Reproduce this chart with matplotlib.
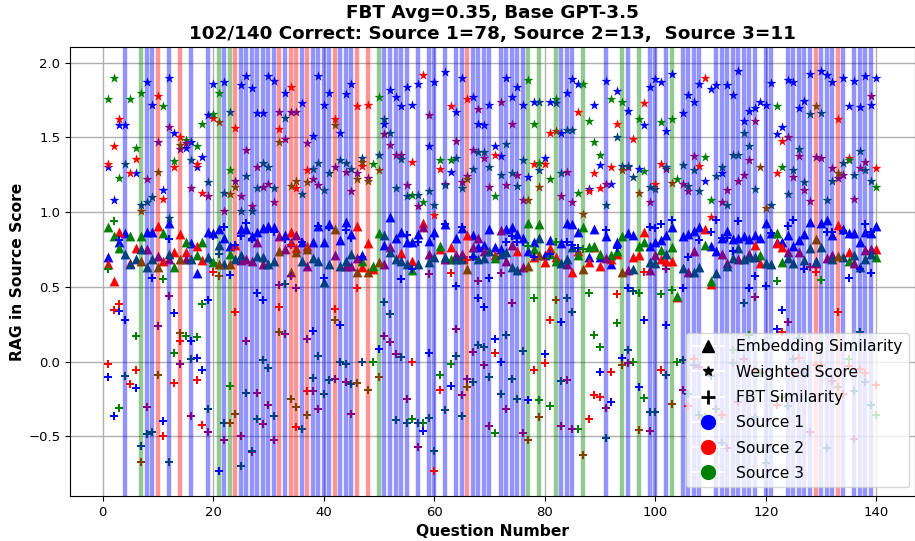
import numpy as np
import matplotlib.pyplot as plt
from matplotlib.lines import Line2D

# which source was picked per question (vertical lines)
picked_1 = [4,8,9,12,16,19,22,25,26,27,28,29,30,31,33,36,38,39,40,41,43,44,45,
            51,52,53,54,55,57,59,60,62,64,65,67,68,69,70,72,73,74,75,76,
            83,84,85,91,95,99,100,102,105,106,107,108,111,112,113,114,115,116,117,118,120,121,
            124,125,126,127,128,130,131,132,134,136,137,138,139]
picked_2 = [10,14,24,32,34,35,37,42,46,48,66,129,133]
picked_3 = [7,21,23,50,77,79,82,87,94,97,103]

# (question, score, sources that share the point)
weighted = [
(1,1.76,'g'),(1,1.325,'r'),(1,1.30,'b'),(2,1.90,'g'),(2,1.44,'r'),(2,1.08,'b'),(3,1.62,'r'),(3,1.58,'b'),(3,1.23,'g'),
(4,1.58,'b'),(4,1.32,'bg'),(5,1.26,'r'),(5,1.76,'g'),(6,1.26,'b'),(6,1.355,'r'),(6,1.43,'g'),(7,1.80,'g'),(7,1.05,'bg'),(7,1.01,'rg'),
(8,1.87,'b'),(8,1.22,'br'),(8,1.07,'bg'),(9,1.72,'b'),(9,1.10,'bg'),(10,1.78,'r'),(10,1.47,'br'),(10,1.27,'rg'),
(11,1.15,'b'),(11,1.09,'r'),(11,1.71,'g'),(12,1.90,'b'),(12,1.57,'br'),(12,0.96,'bg'),(13,1.53,'b'),(13,1.34,'g'),(13,1.30,'r'),
(14,1.50,'r'),(14,1.45,'rg'),(14,1.42,'br'),(15,1.48,'g'),(15,1.46,'br'),(15,1.43,'b'),(16,1.47,'b'),(16,1.16,'br'),(16,1.35,'bg'),
(17,1.44,'g'),(17,1.32,'r'),(17,1.30,'b'),(18,1.37,'b'),(18,1.13,'r'),(18,1.59,'g'),(19,1.65,'b'),(19,1.20,'bg'),(19,1.105,'br'),
(20,1.86,'b'),(20,1.655,'g'),(20,1.63,'r'),(21,1.80,'g'),(21,1.60,'rg'),(22,1.87,'b'),(22,1.01,'br'),(22,1.13,'bg'),
(23,1.67,'bg'),(23,1.28,'g'),(23,1.12,'rg'),(24,1.56,'r'),(24,1.21,'br'),(24,1.17,'rg'),(25,1.85,'b'),(25,1.11,'br'),(25,1.01,'bg'),
(26,1.91,'b'),(26,1.415,'br'),(26,1.24,'bg'),(27,1.83,'b'),(27,1.04,'br'),(27,1.01,'bg'),(28,1.66,'b'),(28,1.30,'br'),(28,1.16,'bg'),
(29,1.66,'b'),(29,1.33,'bg'),(29,1.17,'br'),(30,1.91,'b'),(30,1.30,'bg'),(30,1.19,'br'),(31,1.88,'b'),(31,1.16,'bg'),(31,1.07,'br'),
(32,1.67,'br'),(32,1.555,'r'),(32,1.47,'rg'),(33,1.80,'b'),(33,1.63,'bg'),(33,1.49,'br'),(34,1.84,'r'),(34,1.67,'br'),(34,1.175,'rg'),
(35,1.67,'br'),(35,1.21,'rg'),(35,1.16,'r'),(36,1.73,'b'),(36,1.12,'bg'),(37,1.28,'r'),(37,1.20,'rg'),(37,1.46,'br'),
(38,1.51,'b'),(38,1.29,'bg'),(38,1.22,'br'),(39,1.91,'b'),(39,1.33,'bg'),(39,1.18,'br'),(40,1.72,'b'),(40,1.15,'bg'),
(41,1.80,'b'),(41,1.26,'bg'),(42,1.62,'r'),(42,1.58,'rg'),(42,1.30,'br'),(43,1.53,'b'),(43,1.35,'bg'),
(44,1.79,'b'),(44,1.33,'bg'),(44,1.27,'br'),(45,1.86,'b'),(45,1.29,'bg'),(45,1.14,'br'),(46,1.71,'r'),(46,1.26,'br'),(46,1.22,'rg'),
(47,1.36,'bg'),(47,1.335,'rg'),(47,1.31,'r'),(48,1.72,'r'),(48,1.23,'br'),(48,1.21,'rg'),(49,1.325,'g'),
(50,1.77,'g'),(50,1.38,'bg'),(50,1.28,'rg'),(51,1.62,'bg'),(51,1.59,'b'),(51,1.52,'br'),(52,1.82,'b'),(52,1.53,'bg'),(52,1.45,'br'),
(53,1.77,'b'),(53,1.38,'br'),(53,1.16,'bg'),(54,1.71,'b'),(54,1.38,'br'),(54,1.355,'bg'),(55,1.84,'b'),(55,1.18,'br'),(55,1.11,'bg'),
(56,1.715,'b'),(56,1.335,'r'),(56,1.115,'g'),(57,1.86,'b'),(57,1.115,'bg'),(57,1.04,'br'),(58,1.92,'r'),(58,1.07,'g'),
(59,1.65,'br'),(59,1.44,'b'),(59,1.14,'bg'),(60,1.87,'b'),(60,1.05,'bg'),(60,0.98,'r'),(61,1.35,'g'),(61,1.29,'r'),
(62,1.935,'b'),(62,1.19,'br'),(62,1.18,'bg'),(63,1.71,'r'),(63,1.27,'b'),(63,1.35,'g'),(64,1.67,'b'),(64,1.475,'br'),(64,1.36,'bg'),
(65,1.90,'b'),(65,1.20,'br'),(65,1.16,'bg'),(66,1.76,'r'),(66,1.24,'br'),(66,1.22,'rg'),(67,1.77,'b'),(67,1.415,'br'),(67,1.29,'bg'),
(68,1.69,'br'),(68,1.59,'b'),(68,1.40,'bg'),(69,1.58,'b'),(69,1.40,'bg'),(69,1.365,'br'),(70,1.72,'b'),(70,1.30,'bg'),(70,1.17,'br'),
(71,1.44,'b'),(71,1.385,'r'),(71,1.11,'g'),(72,1.74,'br'),(72,1.375,'b'),(72,1.25,'bg'),(73,1.90,'b'),(73,1.455,'bg'),(73,1.18,'br'),
(74,1.59,'br'),(74,1.77,'b'),(74,1.26,'bg'),(75,1.84,'b'),(75,1.25,'br'),(75,1.175,'bg'),(76,1.72,'b'),(76,1.35,'bg'),(76,1.08,'br'),
(77,1.885,'g'),(77,1.235,'b'),(77,1.08,'rg'),(78,1.74,'b'),(78,1.59,'g'),(78,1.32,'r'),(79,1.74,'bg'),(79,1.33,'g'),(79,1.285,'bg'),(79,1.17,'rg'),
(80,1.36,'b'),(80,1.32,'r'),(81,1.74,'b'),(81,1.53,'r'),(81,1.22,'g'),(82,1.76,'g'),(82,1.73,'bg'),(82,1.54,'rg'),
(83,1.53,'b'),(83,1.26,'bg'),(83,1.11,'br'),(84,1.80,'b'),(84,1.55,'bg'),(84,1.27,'br'),(85,1.89,'b'),(85,1.55,'bg'),(85,1.07,'br'),
(86,1.86,'b'),(86,1.67,'r'),(86,1.13,'g'),(87,1.86,'g'),(87,0.99,'rg'),(88,1.61,'g'),(88,1.155,'b'),(88,1.14,'r'),
(89,1.72,'b'),(89,1.47,'g'),(89,1.265,'r'),(90,1.385,'g'),(90,1.315,'b'),(90,1.16,'r'),(91,1.88,'b'),(91,1.19,'br'),(91,1.05,'bg'),
(92,1.76,'g'),(92,1.30,'r'),(92,1.19,'b'),(93,1.81,'b'),(93,1.59,'r'),(93,1.50,'bg'),(94,1.74,'g'),(94,1.31,'bg'),(94,1.28,'rg'),
(95,1.68,'b'),(95,1.31,'bg'),(95,1.30,'br'),(96,1.49,'r'),(96,1.235,'bg'),(97,1.62,'g'),(97,1.29,'b'),(97,1.13,'rg'),
(98,1.73,'r'),(98,1.58,'b'),(98,1.275,'g'),(99,1.84,'b'),(99,1.165,'bg'),(99,1.07,'br'),(100,1.89,'b'),(100,1.155,'bg'),(100,1.19,'r'),
(101,1.87,'b'),(101,1.60,'g'),(101,1.325,'r'),(102,1.54,'b'),(102,1.30,'bg'),(102,1.29,'br'),(103,1.925,'b'),(103,1.62,'g'),(103,1.195,'rg'),
(104,1.22,'g'),(105,1.66,'b'),(105,1.315,'bg'),(105,1.19,'br'),(106,1.785,'b'),(106,1.175,'bg'),(106,1.14,'br'),
(107,1.74,'b'),(107,1.375,'br'),(107,1.285,'bg'),(108,1.86,'b'),(108,1.31,'r'),(108,1.14,'bg'),(109,1.90,'r'),(109,1.37,'g'),(109,1.21,'b'),
(110,1.825,'b'),(110,1.08,'g'),(110,0.97,'r'),(111,1.85,'b'),(111,1.24,'bg'),(112,1.30,'bg'),(112,1.26,'b'),(112,1.07,'br'),
(113,1.85,'b'),(113,1.145,'br'),(113,1.045,'bg'),(114,1.785,'b'),(114,1.385,'bg'),(115,1.945,'b'),(115,1.38,'bg'),(115,1.205,'br'),
(116,1.61,'b'),(116,1.53,'bg'),(116,1.25,'br'),(117,1.68,'b'),(117,1.44,'bg'),(117,1.35,'br'),(118,1.70,'b'),(118,1.61,'br'),(118,1.155,'bg'),
(119,1.74,'b'),(119,1.30,'rg'),(120,1.72,'b'),(120,1.03,'rg'),(121,1.865,'b'),(121,1.045,'bg'),(122,1.71,'g'),(122,1.52,'b'),(122,1.26,'r'),
(123,1.57,'b'),(123,1.475,'r'),(123,1.30,'g'),(124,1.885,'b'),(124,1.50,'br'),(124,1.12,'bg'),(125,1.87,'b'),(125,1.285,'bg'),(125,1.235,'br'),
(126,1.70,'b'),(126,1.42,'bg'),(126,1.375,'br'),(127,1.745,'b'),(127,1.20,'bg'),(127,1.15,'br'),(128,1.925,'b'),(128,1.655,'bg'),(128,1.075,'br'),
(129,1.71,'rg'),(129,1.37,'br'),(130,1.945,'b'),(130,1.66,'bg'),(130,1.36,'br'),(131,1.915,'b'),(131,1.08,'bg'),
(132,1.87,'b'),(132,1.295,'br'),(132,1.21,'bg'),(133,1.625,'r'),(133,1.26,'rg'),(133,1.23,'br'),(134,1.90,'b'),(134,1.25,'br'),(134,1.33,'bg'),
(135,1.71,'b'),(135,1.35,'g'),(135,1.36,'r'),(136,1.88,'b'),(136,1.09,'br'),(136,1.25,'bg'),(137,1.705,'b'),(137,1.41,'bg'),(137,1.295,'br'),
(138,1.91,'b'),(138,1.335,'br'),(138,1.28,'bg'),(139,1.78,'br'),(139,1.72,'b'),(139,1.21,'bg'),(140,1.90,'b'),(140,1.295,'r'),(140,1.17,'g'),
]

fbt = [
(1,-0.015,'r'),(1,-0.105,'b'),(1,0.62,'g'),(2,0.345,'r'),(2,-0.365,'b'),(2,0.94,'g'),(3,0.385,'r'),(3,0.335,'b'),(3,-0.31,'g'),(3,0.81,'b'),
(4,0.28,'b'),(4,-0.095,'bg'),(5,-0.15,'r'),(6,-0.055,'r'),(6,-0.175,'b'),(6,0.17,'g'),(7,-0.565,'bg'),(7,-0.67,'rg'),
(8,-0.305,'br'),(8,-0.485,'bg'),(9,-0.475,'bg'),(9,0.56,'b'),(10,0.235,'br'),(10,-0.09,'rg'),(11,-0.40,'b'),(11,-0.50,'r'),(11,0.555,'g'),
(12,0.44,'br'),(12,-0.67,'bg'),(12,0.82,'b'),(13,0.325,'b'),(13,0.06,'g'),(13,-0.145,'r'),(14,0.19,'rg'),(14,0.135,'r'),(14,-0.015,'br'),
(15,0.17,'g'),(16,0.14,'b'),(16,0.015,'bg'),(16,-0.365,'br'),(17,0.165,'g'),(17,0.025,'b'),(17,-0.125,'r'),
(18,-0.055,'b'),(18,-0.425,'r'),(18,0.385,'g'),(19,0.415,'b'),(19,-0.315,'bg'),(19,-0.475,'br'),(20,0.84,'b'),(20,0.66,'g'),(20,0.60,'r'),
(21,-0.735,'b'),(21,0.57,'rg'),(21,0.72,'bg'),(22,-0.525,'br'),(22,-0.41,'bg'),(22,0.90,'b'),(23,-0.165,'g'),(23,-0.41,'rg'),(23,0.58,'b'),
(24,0.33,'r'),(24,-0.35,'rg'),(24,0.78,'b'),(25,-0.70,'bg'),(25,-0.50,'br'),(25,0.84,'b'),(26,0.14,'br'),(26,-0.21,'bg'),(26,0.93,'b'),
(27,-0.605,'br'),(27,-0.60,'bg'),(27,0.82,'b'),(28,0.46,'b'),(28,-0.21,'br'),(28,-0.385,'bg'),(29,0.415,'b'),(29,0.01,'bg'),(29,-0.415,'br'),
(30,-0.04,'bg'),(30,-0.29,'br'),(30,0.89,'b'),(31,-0.365,'bg'),(31,-0.525,'br'),(31,0.87,'b'),(32,0.365,'r'),(32,0.20,'rg'),(32,0.51,'br'),
(33,0.52,'bg'),(33,0.185,'br'),(33,0.82,'b'),(34,0.575,'br'),(34,-0.25,'rg'),(34,0.78,'r'),(35,0.49,'br'),(35,-0.305,'rg'),(35,-0.435,'r'),
(36,-0.45,'bg'),(36,0.80,'b'),(37,-0.195,'r'),(37,-0.355,'rg'),(37,0.15,'br'),(38,0.205,'b'),(38,-0.11,'bg'),(38,-0.20,'br'),
(39,0.04,'bg'),(39,-0.32,'br'),(39,0.91,'b'),(40,-0.215,'bg'),(40,0.56,'b'),(41,-0.125,'bg'),(41,0.90,'b'),(42,0.35,'r'),(42,0.275,'rg'),(42,-0.12,'br'),
(43,0.245,'b'),(43,0.0,'bg'),(44,-0.015,'bg'),(44,-0.14,'br'),(44,0.88,'b'),(45,-0.15,'bg'),(45,-0.35,'br'),(45,0.83,'b'),(46,0.49,'r'),(46,-0.145,'rg'),
(47,0.0,'bg'),(47,0.70,'b'),(48,-0.19,'rg'),(49,0.0,'g'),(50,0.085,'b'),(50,-0.105,'rg'),(51,0.40,'bg'),(51,0.17,'br'),(52,0.32,'bg'),(52,0.13,'br'),
(53,0.05,'br'),(53,-0.39,'bg'),(54,0.55,'b'),(54,0.03,'bg'),(55,-0.25,'br'),(55,-0.41,'bg'),(55,0.85,'b'),(56,0.0,'r'),(56,-0.385,'g'),(56,0.62,'b'),
(57,-0.41,'bg'),(57,-0.575,'br'),(57,0.80,'b'),(58,-0.41,'g'),(58,-0.465,'b'),(59,0.06,'b'),(59,-0.38,'bg'),(59,0.585,'br'),(60,-0.60,'bg'),(60,-0.735,'r'),(60,0.84,'b'),
(61,-0.09,'g'),(61,-0.19,'r'),(62,-0.325,'bg'),(62,0.92,'b'),(63,-0.015,'g'),(63,-0.165,'b'),(63,0.59,'r'),(64,0.505,'b'),(64,0.22,'br'),(64,0.035,'bg'),
(65,-0.225,'br'),(65,-0.365,'bg'),(65,0.90,'b'),(66,-0.115,'br'),(66,-0.17,'rg'),(66,0.68,'r'),(67,-0.135,'bg'),(67,0.065,'br'),(67,0.70,'b'),
(68,0.54,'br'),(68,0.425,'b'),(68,0.11,'bg'),(69,0.365,'b'),(69,0.095,'bg'),(69,-0.02,'br'),(70,0.56,'b'),(70,-0.105,'bg'),(70,-0.43,'br'),
(71,0.15,'b'),(71,0.06,'r'),(71,-0.48,'g'),(72,0.595,'br'),(72,0.0,'b'),(72,-0.215,'bg'),(73,0.18,'bg'),(73,-0.315,'br'),(73,0.80,'b'),
(74,0.39,'br'),(74,-0.115,'bg'),(74,0.84,'b'),(75,-0.25,'bg'),(75,0.80,'b'),(76,0.07,'bg'),(76,-0.48,'br'),(76,0.80,'b'),
(77,-0.26,'b'),(77,-0.525,'rg'),(77,0.77,'g'),(78,0.425,'g'),(78,-0.055,'r'),(78,0.70,'b'),(79,-0.26,'g'),(79,-0.37,'rg'),(80,0.05,'b'),(80,-0.01,'r'),
(81,0.28,'r'),(81,-0.295,'g'),(81,0.72,'b'),(82,0.415,'rg'),(82,0.80,'g'),(83,0.265,'b'),(83,-0.13,'bg'),(83,-0.43,'br'),(84,0.425,'bg'),(84,-0.125,'br'),(84,0.80,'b'),
(85,0.33,'bg'),(85,-0.45,'br'),(85,0.78,'b'),(86,-0.45,'g'),(86,0.76,'b'),(87,-0.625,'rg'),(87,0.75,'g'),(88,0.46,'g'),(88,-0.385,'r'),
(89,0.175,'g'),(89,-0.225,'r'),(90,0.095,'g'),(90,-0.07,'b'),(90,-0.235,'r'),(91,-0.31,'br'),(91,-0.51,'bg'),(91,0.88,'b'),(92,-0.07,'r'),(92,-0.27,'b'),
(93,0.45,'r'),(93,0.255,'g'),(93,0.76,'b'),(94,0.025,'b'),(94,-0.02,'rg'),(95,0.08,'bg'),(95,-0.01,'br'),(95,0.495,'b'),(96,0.0,'g'),(96,0.47,'bg'),
(97,-0.17,'b'),(97,-0.46,'rg'),(97,0.457,'g'),(98,-0.245,'g'),(98,0.28,'b'),(98,0.60,'r'),(99,-0.34,'bg'),(99,-0.465,'br'),(99,0.90,'b'),
(100,-0.34,'bg'),(100,0.895,'b'),(101,0.45,'g'),(101,-0.055,'r'),(101,0.92,'b'),(102,0.245,'b'),(102,-0.09,'bg'),(102,0.62,'br'),
(103,0.48,'g'),(103,-0.285,'rg'),(103,0.95,'b'),(104,0.0,'g'),(105,0.495,'b'),(105,0.01,'bg'),(105,-0.19,'br'),(106,-0.22,'bg'),(106,-0.295,'r'),(106,0.70,'b'),
(107,0.02,'r'),(107,-0.02,'bg'),(108,-0.035,'br'),(108,-0.36,'bg'),(108,0.81,'b'),(109,-0.37,'g'),(110,-0.10,'bg'),(110,0.87,'b'),(111,-0.32,'bg'),(111,0.945,'b'),
(112,-0.36,'r'),(112,-0.545,'bg'),(112,0.83,'b'),(113,-0.58,'br'),(113,0.83,'b'),(114,0.08,'g'),(114,-0.01,'bg'),(114,0.74,'b'),(115,-0.27,'br'),(115,0.94,'b'),
(116,0.39,'bg'),(116,0.015,'br'),(117,0.49,'b'),(117,0.18,'g'),(118,0.575,'b'),(118,0.43,'br'),(118,-0.37,'bg'),(118,-0.06,'r'),(119,-0.08,'g'),
(120,0.505,'b'),(120,-0.68,'bg'),(121,0.86,'b'),(122,0.54,'g'),(122,0.22,'b'),(122,-0.29,'r'),(123,0.345,'b'),(123,0.20,'r'),(123,-0.24,'g'),
(124,0.265,'br'),(124,-0.30,'bg'),(124,0.91,'b'),(125,0.015,'bg'),(125,-0.08,'r'),(125,0.945,'b'),(126,0.16,'bg'),(126,0.025,'r'),(127,-0.08,'bg'),(127,0.62,'b'),
(128,-0.47,'br'),(128,0.63,'br'),(129,0.60,'r'),(129,-0.02,'r'),(130,0.545,'g'),(130,-0.02,'r'),(131,-0.58,'bg'),(131,0.865,'b'),(132,-0.13,'br'),(132,0.865,'b'),
(133,0.33,'r'),(133,-0.17,'rg'),(134,-0.22,'r'),(134,0.875,'b'),(135,0.56,'b'),(135,0.02,'g'),(135,-0.03,'r'),(136,-0.20,'bg'),(136,-0.52,'br'),
(137,0.62,'b'),(137,0.20,'bg'),(137,-0.05,'r'),(138,-0.08,'r'),(138,-0.135,'bg'),(138,0.92,'b'),(139,-0.29,'bg'),(139,0.59,'b'),(139,0.865,'b'),(140,-0.36,'g'),(140,-0.16,'r'),
]

embedding = [
(1,0.90,'g'),(1,0.70,'b'),(1,0.655,'r'),(2,0.54,'r'),(2,0.84,'g'),(3,0.87,'r'),(3,0.80,'b'),(3,0.76,'g'),(4,0.86,'b'),(4,0.72,'bg'),
(5,0.84,'g'),(5,0.65,'bg'),(5,0.66,'r'),(6,0.76,'r'),(6,0.685,'bg'),(7,0.84,'g'),(7,0.675,'rg'),(7,0.75,'bg'),(8,0.865,'b'),(8,0.755,'br'),(8,0.63,'bg'),
(9,0.87,'b'),(9,0.685,'bg'),(10,0.905,'r'),(10,0.705,'br'),(10,0.63,'rg'),(11,0.86,'g'),(11,0.675,'r'),(12,0.93,'b'),(12,0.685,'br'),(12,0.72,'bg'),
(13,0.735,'r'),(13,0.63,'g'),(14,0.855,'r'),(14,0.685,'rg'),(15,0.80,'g'),(15,0.735,'r'),(15,0.685,'br'),(16,0.795,'b'),(16,0.685,'bg'),
(17,0.77,'r'),(17,0.71,'g'),(17,0.595,'b'),(18,0.80,'g'),(18,0.68,'r'),(19,0.87,'b'),(19,0.70,'bg'),(20,0.86,'b'),(20,0.665,'g'),
(21,0.89,'b'),(21,0.78,'bg'),(21,0.65,'rg'),(22,0.83,'b'),(22,0.65,'bg'),(23,0.775,'b'),(23,0.72,'g'),(23,0.65,'rg'),(24,0.78,'r'),(24,0.685,'bg'),
(25,0.89,'b'),(25,0.715,'bg'),(25,0.68,'br'),(26,0.89,'b'),(26,0.685,'br'),(27,0.84,'b'),(27,0.675,'br'),(28,0.865,'b'),(28,0.80,'br'),(28,0.705,'bg'),
(29,0.895,'b'),(29,0.65,'br'),(29,0.70,'bg'),(30,0.905,'b'),(30,0.65,'bg'),(31,0.90,'b'),(31,0.67,'bg'),(32,0.84,'br'),(32,0.74,'rg'),(33,0.845,'b'),(33,0.75,'br'),
(34,0.865,'r'),(34,0.80,'br'),(34,0.60,'rg'),(35,0.85,'br'),(35,0.73,'rg'),(35,0.76,'r'),(36,0.80,'b'),(36,0.675,'bg'),(37,0.755,'rg'),(37,0.77,'r'),(37,0.64,'br'),
(38,0.80,'b'),(38,0.695,'bg'),(39,0.91,'b'),(39,0.675,'bg'),(40,0.80,'b'),(40,0.535,'bg'),(41,0.92,'b'),(41,0.65,'bg'),(42,0.89,'rg'),(42,0.71,'br'),
(43,0.815,'b'),(43,0.64,'bg'),(44,0.935,'b'),(44,0.675,'bg'),(44,0.64,'br'),(45,0.855,'b'),(45,0.72,'bg'),(45,0.64,'br'),(46,0.91,'r'),(46,0.60,'rg'),(46,0.69,'br'),
(47,0.71,'b'),(47,0.67,'g'),(47,0.63,'r'),(48,0.79,'r'),(48,0.60,'rg'),(49,0.64,'g'),(49,0.62,'r'),(50,0.86,'g'),(50,0.665,'rg'),
(51,0.85,'bg'),(51,0.78,'b'),(51,0.65,'br'),(52,0.965,'b'),(52,0.765,'br'),(52,0.73,'bg'),(53,0.83,'b'),(53,0.685,'bg'),(54,0.865,'b'),(54,0.725,'r'),(54,0.675,'bg'),
(55,0.80,'b'),(55,0.65,'bg'),(56,0.80,'b'),(56,0.67,'r'),(56,0.615,'g'),(57,0.855,'b'),(57,0.65,'bg'),(58,0.93,'r'),(58,0.90,'br'),(59,0.805,'b'),(59,0.72,'br'),(59,0.665,'bg'),
(60,0.865,'b'),(60,0.70,'bg'),(61,0.775,'g'),(61,0.75,'r'),(62,0.92,'b'),(62,0.685,'br'),(62,0.70,'bg'),(63,0.765,'r'),(63,0.685,'g'),(64,0.825,'b'),(64,0.71,'br'),(64,0.685,'bg'),
(65,0.895,'b'),(65,0.72,'br'),(65,0.685,'bg'),(66,0.845,'r'),(66,0.62,'rg'),(67,0.85,'b'),(67,0.765,'br'),(67,0.71,'bg'),(68,0.83,'br'),(68,0.765,'b'),(68,0.685,'bg'),
(69,0.78,'b'),(69,0.74,'br'),(69,0.69,'bg'),(70,0.89,'b'),(70,0.74,'bg'),(71,0.765,'b'),(71,0.695,'g'),(71,0.71,'r'),(72,0.88,'br'),(72,0.755,'b'),(72,0.72,'bg'),
(73,0.89,'b'),(73,0.73,'bg'),(73,0.675,'br'),(74,0.78,'br'),(74,0.90,'b'),(74,0.63,'bg'),(75,0.855,'b'),(75,0.74,'r'),(75,0.615,'bg'),(76,0.83,'b'),(76,0.63,'br'),
(77,0.925,'g'),(77,0.74,'b'),(77,0.64,'rg'),(78,0.755,'g'),(78,0.70,'r'),(78,0.80,'b'),(79,0.92,'g'),(79,0.715,'rg'),(79,0.83,'bg'),(80,0.71,'b'),(80,0.665,'r'),
(81,0.81,'b'),(81,0.76,'r'),(81,0.72,'g'),(82,0.67,'g'),(82,0.70,'r'),(83,0.79,'b'),(83,0.66,'bg'),(84,0.925,'b'),(84,0.685,'bg'),(84,0.65,'br'),
(85,0.92,'b'),(85,0.765,'bg'),(85,0.60,'r'),(86,0.71,'g'),(86,0.74,'r'),(86,0.865,'b'),(87,0.90,'g'),(87,0.62,'rg'),(88,0.765,'g'),(88,0.70,'b'),(88,0.665,'r'),
(89,0.885,'b'),(89,0.775,'g'),(89,0.765,'r'),(90,0.70,'b'),(90,0.64,'r'),(90,0.72,'g'),(91,0.84,'b'),(91,0.69,'br'),(92,0.685,'r'),(92,0.71,'g'),(92,0.65,'b'),
(93,0.80,'b'),(93,0.74,'g'),(93,0.72,'r'),(94,0.84,'g'),(94,0.60,'rg'),(95,0.86,'b'),(95,0.615,'br'),(96,0.85,'b'),(96,0.70,'r'),(96,0.62,'bg'),
(97,0.775,'g'),(97,0.71,'r'),(98,0.865,'r'),(98,0.80,'g'),(99,0.775,'b'),(99,0.665,'bg'),(99,0.61,'br'),(100,0.715,'br'),(100,0.66,'bg'),(100,0.80,'b'),
(101,0.815,'b'),(101,0.745,'g'),(101,0.685,'r'),(102,0.85,'b'),(102,0.675,'r'),(102,0.72,'bg'),(103,0.90,'b'),(103,0.765,'g'),(103,0.675,'r'),(104,0.44,'g'),(104,0.43,'r'),
(105,0.84,'b'),(105,0.625,'bg'),(106,0.855,'b'),(106,0.60,'br'),(107,0.875,'b'),(107,0.74,'br'),(107,0.60,'bg'),(108,0.90,'b'),(108,0.63,'bg'),(109,0.89,'r'),(109,0.78,'g'),
(110,0.77,'b'),(110,0.52,'r'),(110,0.54,'g'),(111,0.74,'b'),(111,0.59,'bg'),(112,0.83,'b'),(112,0.72,'br'),(113,0.875,'b'),(113,0.64,'bg'),(113,0.66,'br'),
(114,0.82,'b'),(114,0.69,'bg'),(115,0.83,'b'),(115,0.76,'bg'),(115,0.685,'br'),(116,0.84,'b'),(116,0.685,'bg'),(117,0.70,'bg'),(117,0.72,'br'),(117,0.82,'b'),
(118,0.845,'b'),(118,0.78,'r'),(118,0.70,'bg'),(119,0.825,'b'),(119,0.71,'g'),(119,0.66,'r'),(120,0.93,'b'),(120,0.66,'bg'),(121,0.86,'b'),(121,0.655,'bg'),
(122,0.86,'g'),(122,0.79,'r'),(122,0.80,'b'),(123,0.80,'b'),(123,0.765,'r'),(123,0.665,'g'),(124,0.73,'br'),(124,0.85,'b'),(124,0.69,'bg'),(125,0.77,'b'),(125,0.66,'bg'),
(126,0.81,'b'),(126,0.73,'br'),(127,0.855,'b'),(127,0.68,'bg'),(128,0.935,'b'),(128,0.76,'bg'),(129,0.82,'rg'),(129,0.67,'bg'),(129,0.66,'br'),
(130,0.93,'b'),(130,0.765,'bg'),(131,0.945,'b'),(131,0.69,'br'),(132,0.71,'br'),(132,0.685,'bg'),(132,0.85,'b'),(133,0.915,'r'),(133,0.705,'rg'),(134,0.89,'b'),(134,0.70,'bg'),
(135,0.73,'r'),(135,0.675,'g'),(135,0.86,'b'),(136,0.71,'bg'),(136,0.86,'b'),(136,0.66,'br'),(137,0.80,'b'),(137,0.63,'bg'),(138,0.87,'b'),(138,0.745,'br'),(138,0.685,'bg'),
(139,0.86,'b'),(139,0.755,'br'),(139,0.72,'bg'),(140,0.91,'b'),(140,0.755,'r'),(140,0.70,'g'),
]

# shared points come out as the mean of the source colours
colors = {'b': (0, 0, 1), 'r': (1, 0, 0), 'g': (0, 0.5, 0),
          'br': (0.5, 0, 0.5), 'bg': (0, 0.25, 0.5), 'rg': (0.5, 0.25, 0)}

def draw(ax, points, marker, size):
	for key in colors:
		xs = [p[0] for p in points if p[2] == key]
		ys = [p[1] for p in points if p[2] == key]
		ax.scatter(xs, ys, marker=marker, s=size, color=colors[key], linewidths=0, zorder=3)

fig = plt.figure(figsize=(9.15, 5.41), dpi=100)
ax = fig.add_axes([70/915, 1-496/541, 845/915, 449/541])

for q in picked_1:
	ax.axvline(q, color='b', lw=3.2, alpha=0.42, zorder=1)
for q in picked_2:
	ax.axvline(q, color='r', lw=3.2, alpha=0.42, zorder=1)
for q in picked_3:
	ax.axvline(q, color='g', lw=3.2, alpha=0.42, zorder=1)

draw(ax, embedding, '^', 50)
draw(ax, weighted, '*', 56)
draw(ax, fbt, 'P', 38)

ax.set_xlim(-5.9, 147)
ax.set_ylim(-0.9, 2.105)
ax.set_xticks(np.arange(0, 141, 20))
ax.tick_params(labelsize=9.5)
ax.grid(True, lw=1.0, zorder=0)
ax.set_axisbelow(True)
ax.set_xlabel('Question Number', fontsize=11.2, fontweight='bold', labelpad=4)
ax.set_ylabel('RAG in Source Score', fontsize=11.2, fontweight='bold', labelpad=2)
ax.set_title('FBT Avg=0.35, Base GPT-3.5\n102/140 Correct: Source 1=78, Source 2=13,  Source 3=11',
             fontsize=13.2, fontweight='bold', pad=6)

handles = [
	Line2D([0], [0], marker='^', color='w', markerfacecolor='k', markeredgecolor='k', markersize=9, label='Embedding Similarity'),
	Line2D([0], [0], marker='*', color='w', markerfacecolor='k', markeredgecolor='k', markersize=7, label='Weighted Score'),
	Line2D([0], [0], marker='+', color='w', markerfacecolor='k', markeredgecolor='k', markeredgewidth=2, markersize=10, label='FBT Similarity'),
	Line2D([0], [0], marker='o', color='w', markerfacecolor='b', markeredgecolor='b', markersize=10, label='Source 1'),
	Line2D([0], [0], marker='o', color='w', markerfacecolor='r', markeredgecolor='r', markersize=10, label='Source 2'),
	Line2D([0], [0], marker='o', color='w', markerfacecolor='g', markeredgecolor='g', markersize=10, label='Source 3'),
]
leg = ax.legend(handles=handles, loc='lower right', fontsize=11.2, labelspacing=0.66, bbox_to_anchor=(0.9925, 0.02), borderaxespad=0)
leg.set_zorder(5)

fig.savefig('out.png', dpi=100)
